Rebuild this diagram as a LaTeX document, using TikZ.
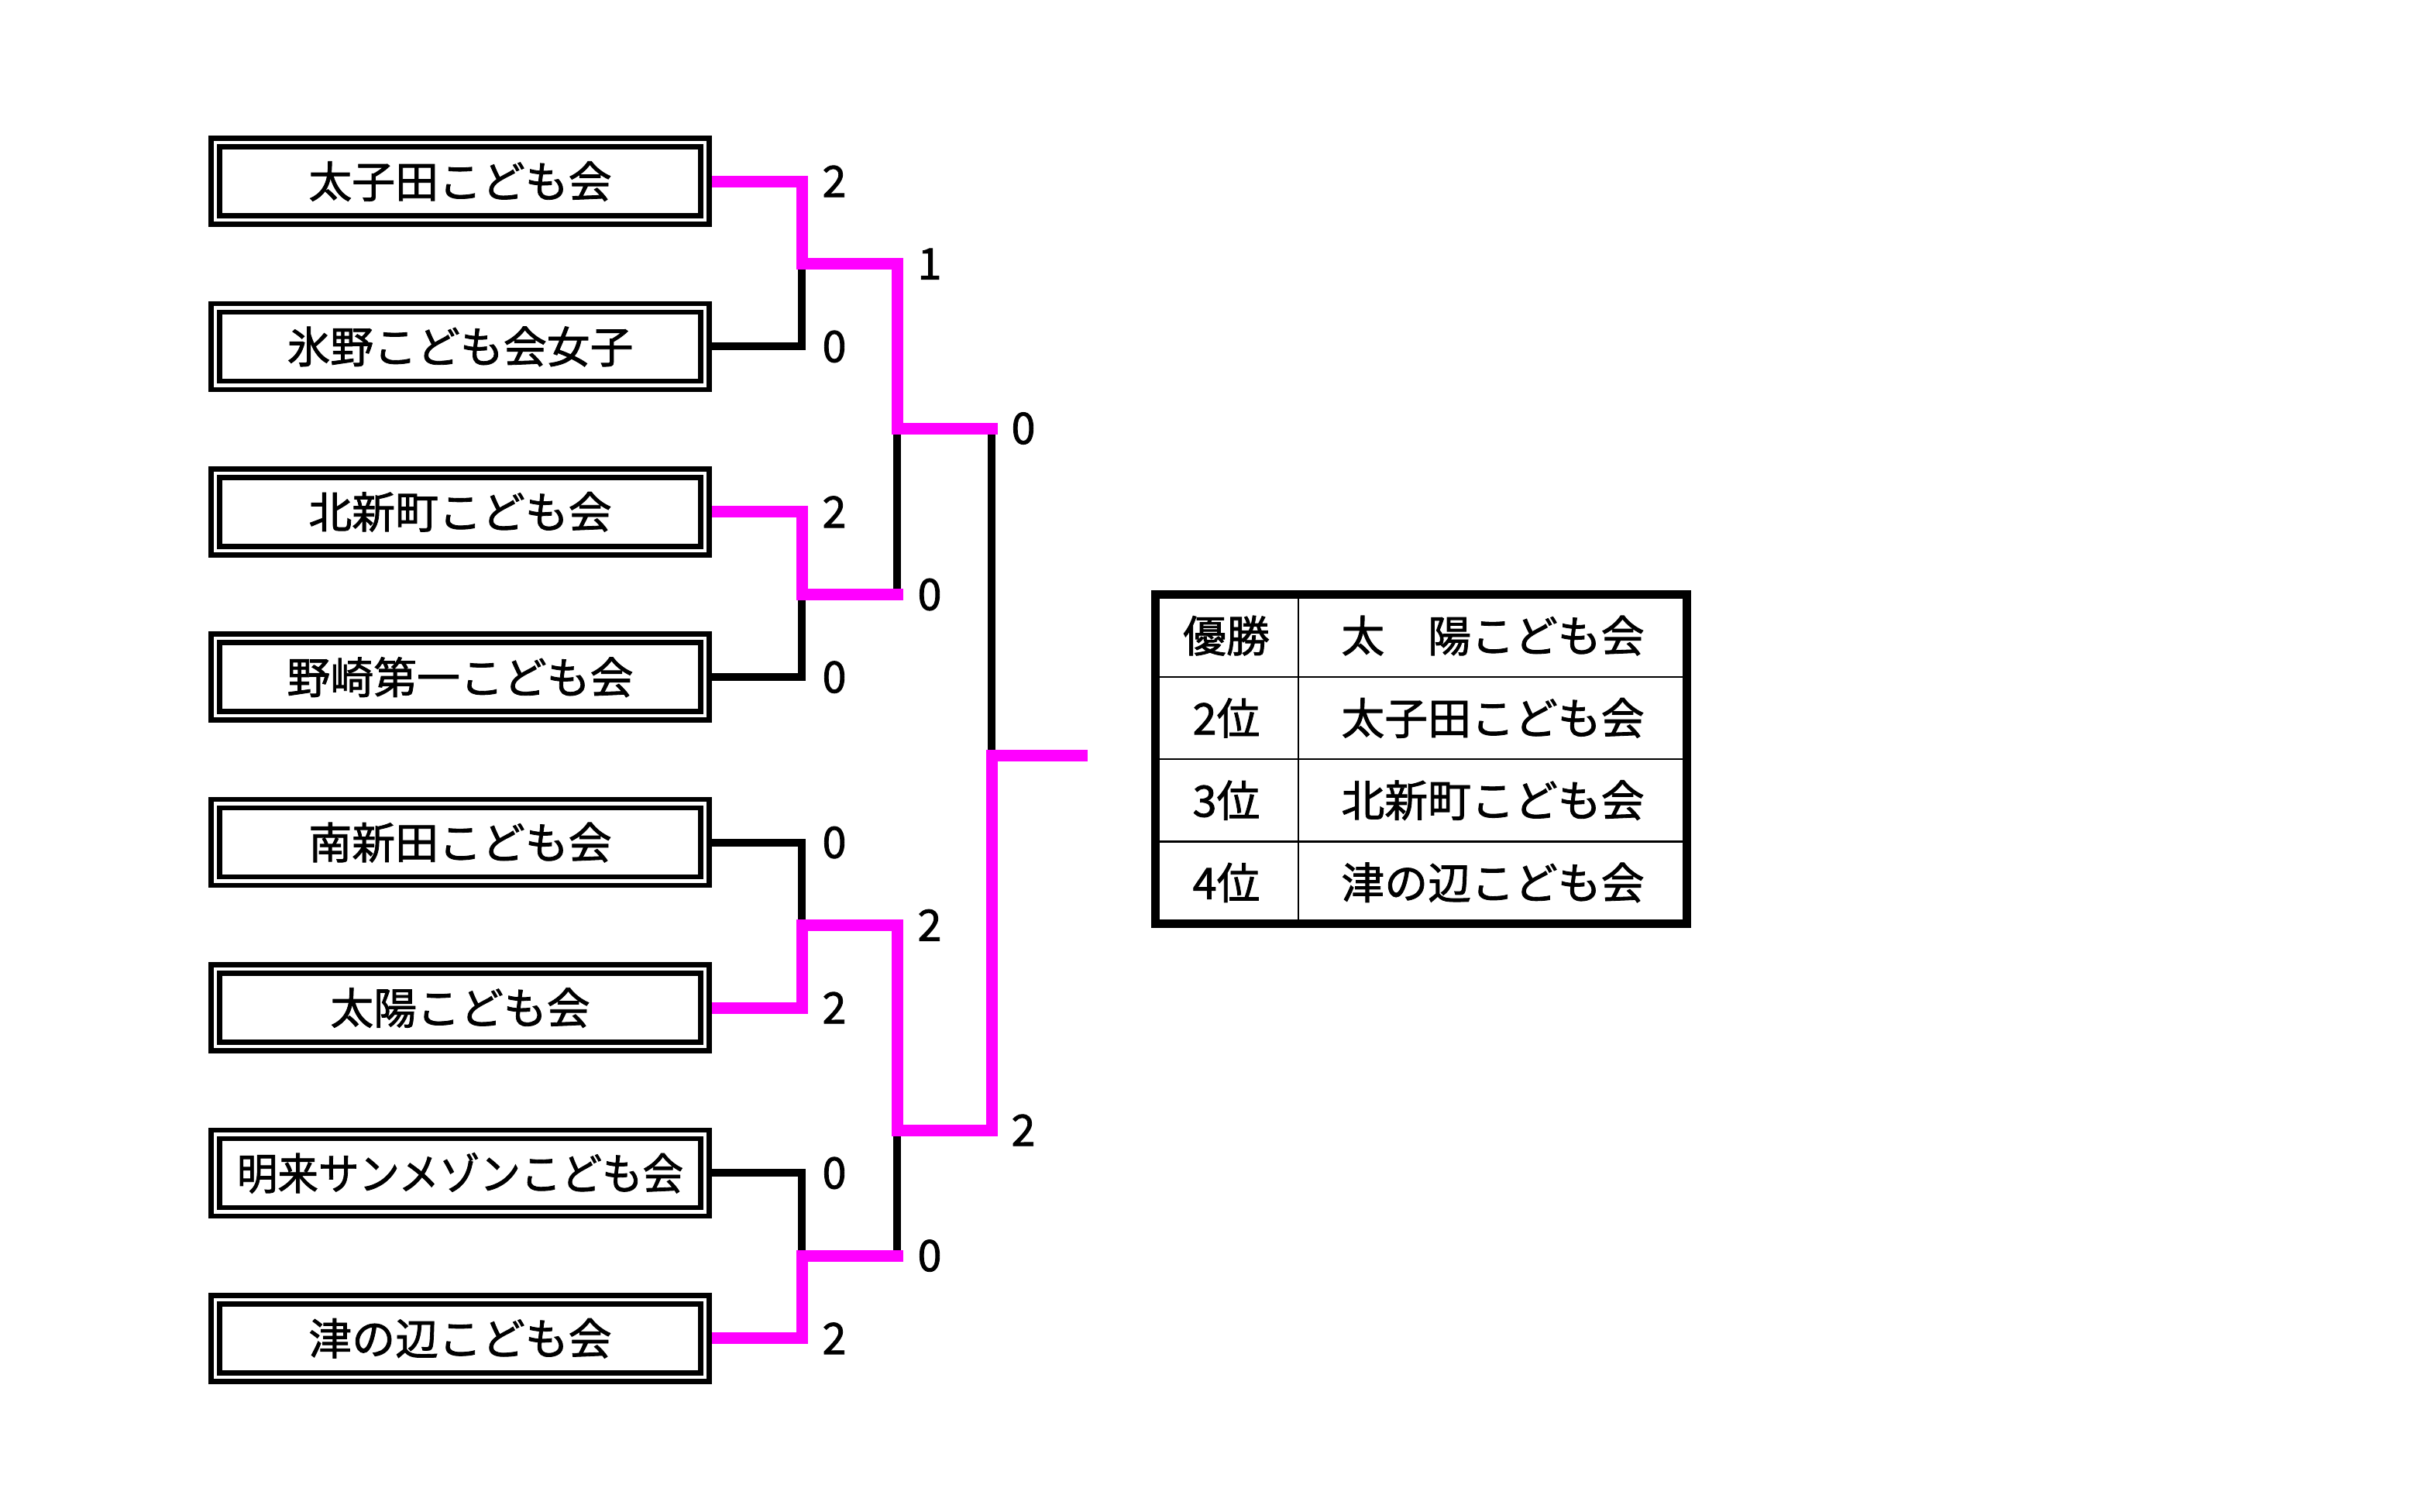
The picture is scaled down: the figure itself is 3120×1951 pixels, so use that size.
\documentclass[tikz,border=0pt]{standalone}
\usepackage{fontspec}
\setmainfont[FakeBold=1.5,AutoFakeBold=1.5]{Noto Sans CJK JP}
\definecolor{winpink}{RGB}{255,0,255}
\pgfdeclarelayer{bg}
\pgfsetlayers{bg,main}
\begin{document}
\begin{tikzpicture}[x=0.1mm,y=-0.1mm,
  team/.style={draw, double, line width=0.65mm, double distance=0.45mm, fill=white,
    minimum width=63.2mm, minimum height=10.0mm, inner sep=0pt, outer sep=0.875mm,
    font=\fontsize{15.9}{18}\selectfont\bfseries},
  score/.style={inner sep=0pt, font=\fontsize{15.9}{18}\selectfont},
  cell/.style={inner sep=0pt, font=\fontsize{15.9}{18}\selectfont\bfseries},
  win/.style={draw=winpink, line width=1.5mm, line cap=rect, line join=miter},
  lose/.style={draw=black, line width=1.0mm, line cap=rect, line join=miter}]
\useasboundingbox (0,0) rectangle (3120,1951);

% teams
\node[team] (t1) at (594,234)    {太子田こども会};
\node[team] (t2) at (594,447.4)  {氷野こども会女子};
\node[team] (t3) at (594,660.8)  {北新町こども会};
\node[team] (t4) at (594,874.2)  {野崎第一こども会};
\node[team] (t5) at (594,1087.6) {南新田こども会};
\node[team] (t6) at (594,1301)   {太陽こども会};
\node[team] (t7) at (594,1514.4) {\scalebox{0.94}[1]{明来サンメゾンこども会}};
\node[team] (t8) at (594,1727.8) {津の辺こども会};

% junctions
\coordinate (j12) at (1035,340.7);
\coordinate (j34) at (1035,767.5);
\coordinate (j56) at (1035,1194.3);
\coordinate (j78) at (1035,1621.1);
\coordinate (k1) at (1158,553);
\coordinate (k2) at (1158,1459);
\coordinate (f) at (1280,975);
\coordinate (fend) at (1396,975);

\begin{pgfonlayer}{bg}
  % losing lines
  \draw[lose] (t2.east) -| (j12);
  \draw[lose] (t4.east) -| (j34);
  \draw[lose] (t5.east) -| (j56);
  \draw[lose] (t7.east) -| (j78);
  \draw[lose] (k1) -- (k1 |- j34);
  \draw[lose] (k2) -- (k2 |- j78);
  \draw[lose] (f |- k1) -- (f);
  % winning lines
  \draw[win] (t1.east) -| (j12) -| (k1) -- (f |- k1);
  \draw[win] (t3.east) -| (j34) -- (k1 |- j34);
  \draw[win] (t6.east) -| (j56) -| (k2) -| (f) -- (fend);
  \draw[win] (t8.east) -| (j78) -- (k2 |- j78);
\end{pgfonlayer}

% scores
\node[score] (s1)  at (1077,234)    {2};
\node[score] (s2)  at (1077,447.4)  {0};
\node[score] (s3)  at (1200,340.7)  {1};
\node[score] (s4)  at (1321,553)    {0};
\node[score] (s5)  at (1077,660.8)  {2};
\node[score] (s6)  at (1200,767.5)  {0};
\node[score] (s7)  at (1077,874.2)  {0};
\node[score] (s8)  at (1077,1087.6) {0};
\node[score] (s9)  at (1200,1194.3) {2};
\node[score] (s10) at (1077,1301)   {2};
\node[score] (s11) at (1321,1459)   {2};
\node[score] (s12) at (1077,1514.4) {0};
\node[score] (s13) at (1200,1621.1) {0};
\node[score] (s14) at (1077,1727.8) {2};

% result table
\draw[line width=0.25mm] (1676,767.5) -- (1676,1192.5);
\draw[line width=0.25mm] (1491.5,873.75) -- (2177.5,873.75);
\draw[line width=0.25mm] (1491.5,980) -- (2177.5,980);
\draw[line width=0.25mm] (1491.5,1086.25) -- (2177.5,1086.25);
\draw[line width=1.1mm] (1491.5,767.5) rectangle (2177.5,1192.5);

\node[cell] (r1a) at (1583,820.6)  {優勝};
\node[cell] (r1b) at (1927,820.6)  {太　陽こども会};
\node[cell] (r2a) at (1583,926.9)  {2位};
\node[cell] (r2b) at (1927,926.9)  {太子田こども会};
\node[cell] (r3a) at (1583,1033.1) {3位};
\node[cell] (r3b) at (1927,1033.1) {北新町こども会};
\node[cell] (r4a) at (1583,1139.4) {4位};
\node[cell] (r4b) at (1927,1139.4) {津の辺こども会};
\end{tikzpicture}
\end{document}
